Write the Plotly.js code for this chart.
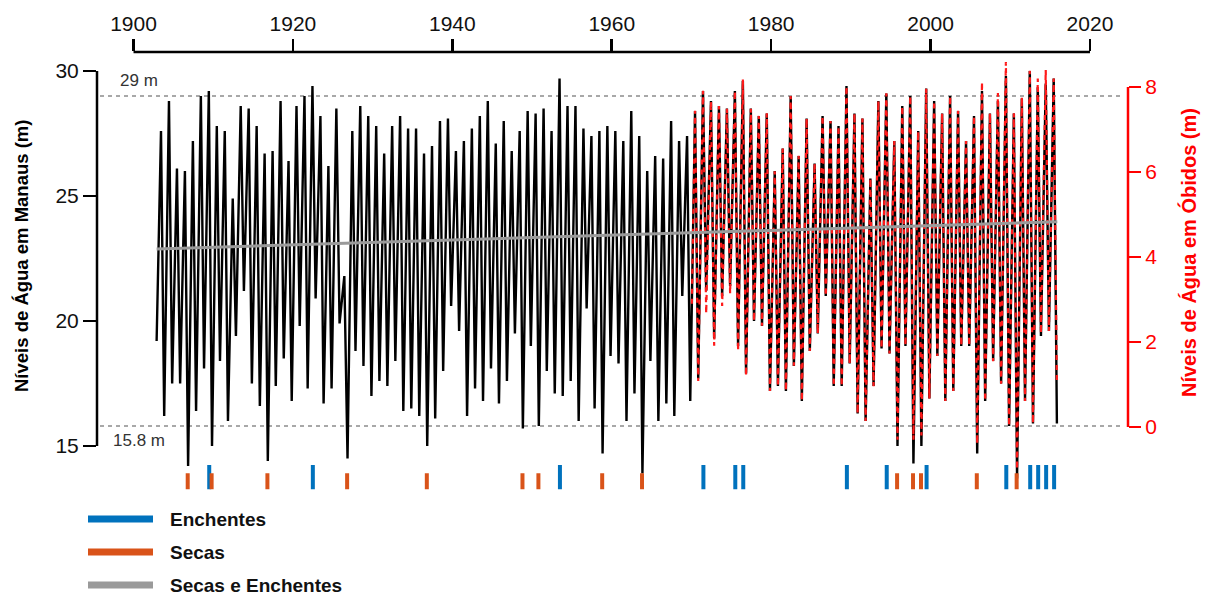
<!DOCTYPE html>
<html><head><meta charset="utf-8">
<script src="https://cdn.plot.ly/plotly-3.0.1.min.js"></script>
<style>html,body{margin:0;padding:0;background:#fff}#chart{width:1205px;height:595px}</style>
</head><body><div id="chart"></div>
<script>
// ---------- DATA ----------
// Manaus: annual flood crest (peak) and low-water (trough) levels, 1903-2015, metres
const manausFirstYear = 1903;
const manausStart = [1902.9, 19.2];          // first sample of the record (year, level)
const manausPeak = [
  27.6, 28.8, 26.1, 26.0, 27.2, 29.0, 29.2, 27.8, 27.6, 24.9,
  28.6, 28.5, 27.8, 26.7, 26.8, 28.8, 26.4, 28.6, 29.0, 29.4,
  28.2, 26.2, 28.5, 21.8, 27.6, 28.6, 28.2, 27.8, 26.7, 27.8,
  28.2, 27.7, 27.7, 26.7, 27.0, 28.0, 28.1, 26.8, 27.2, 27.7,
  28.2, 28.8, 27.1, 28.0, 26.8, 27.6, 28.4, 28.3, 28.5, 27.6,
  29.7, 28.6, 28.6, 27.7, 27.4, 27.6, 27.8, 27.6, 27.2, 28.4,
  27.4, 26.0, 26.6, 26.5, 28.0, 27.2, 27.4, 28.4, 29.2, 28.8,
  28.6, 28.5, 29.2, 29.6, 28.5, 28.2, 28.3, 26.0, 26.9, 29.0,
  26.6, 28.1, 26.3, 28.2, 28.0, 27.8, 29.4, 28.3, 28.1, 25.7,
  28.8, 29.1, 27.2, 28.6, 29.0, 27.6, 29.3, 28.8, 28.3, 29.0,
  28.4, 27.2, 28.2, 29.2, 28.3, 28.8, 29.8, 28.3, 28.9, 30.0,
  29.35, 29.5, 29.7
];
const manausTrough = [
  16.2, 17.5, 17.5, 14.2, 16.4, 18.1, 15.0, 18.4, 16.0, 19.4,
  21.2, 17.5, 16.6, 14.4, 17.4, 18.5, 16.8, 19.8, 17.3, 20.9,
  16.7, 17.3, 19.9, 14.5, 18.8, 18.2, 17.0, 17.6, 17.4, 18.4,
  16.4, 16.5, 16.2, 15.0, 16.1, 18.0, 20.6, 19.6, 16.2, 17.3,
  16.8, 18.1, 16.7, 17.6, 19.5, 15.7, 19.0, 15.8, 18.0, 17.1,
  17.0, 17.6, 16.0, 20.5, 16.5, 14.7, 18.6, 18.3, 16.0, 17.1,
  13.9, 18.4, 16.0, 16.7, 16.2, 21.0, 16.8, 17.7, 21.2, 19.3,
  21.0, 21.4, 19.0, 17.9, 20.0, 19.8, 17.2, 17.4, 17.2, 18.2,
  16.8, 18.8, 19.5, 21.0, 17.4, 17.4, 18.3, 16.3, 16.0, 17.4,
  18.9, 18.7, 15.0, 19.0, 14.3, 15.0, 16.9, 18.6, 16.8, 17.2,
  19.0, 19.0, 14.7, 16.8, 18.4, 17.5, 15.8, 13.7, 16.8, 15.9,
  19.4, 19.6, 15.9
];

// Óbidos: annual peak and trough levels, 1970-2015, metres (right axis)
const obidosFirstYear = 1970;
const obidosStart = [1970.05, 2.9];
const obidosPeak = [
  7.44, 7.91, 7.67, 7.55, 7.49, 7.91, 8.18, 7.49, 7.32, 7.38,
  6.02, 6.55, 7.79, 6.38, 7.26, 6.20, 7.32, 7.20, 7.08, 8.02,
  7.38, 7.26, 5.85, 7.67, 7.85, 6.73, 7.55, 7.79, 6.96, 7.96,
  7.67, 7.38, 7.79, 7.44, 6.73, 7.32, 8.12, 7.38, 7.86, 8.59,
  7.38, 7.76, 8.38, 8.20, 8.40, 8.20
];
const obidosTrough = [
  1.08, 2.67, 1.91, 2.85, 3.14, 1.79, 1.20, 2.49, 2.38, 0.85,
  0.96, 0.85, 1.44, 0.61, 1.79, 2.20, 3.08, 0.96, 0.96, 1.49,
  0.32, 0.14, 0.96, 1.85, 1.73, -0.30, 1.91, -0.30, -0.20, 0.67,
  1.67, 0.61, 0.85, 1.91, 1.91, -0.40, 0.61, 1.55, 1.02, 0.02,
  -1.00, 0.61, 0.08, 2.20, 2.26, 1.00
];

// Linear trend (gray), read on the right-hand scale
const trendYears = [1902.9, 2015.9];
const trendLevel = [4.19, 4.83];

// Extreme events
const floodYears   = [1909, 1922, 1953, 1971, 1975, 1976, 1989, 1994, 1999, 2009, 2012, 2013, 2014, 2015];
const droughtYears = [1906, 1909, 1916, 1926, 1936, 1948, 1950, 1958, 1963, 1995, 1997, 1998, 2005, 2010];

// Reference levels and labels
const refLevels = [29, 15.8];
const refLabels = ['29 m', '15.8 m'];
const xTicks = [1900, 1920, 1940, 1960, 1980, 2000, 2020];
const yTicks = [15, 20, 25, 30];
const y2Ticks = [0, 2, 4, 6, 8];
const legendNames = ['Enchentes', 'Secas', 'Secas e Enchentes'];

// ---------- BUILD ----------
const PEAK_T = 0.45, TROUGH_T = 0.85;
function series(start, firstYear, peaks, troughs) {
  const x = [start[0]], y = [start[1]];
  for (let i = 0; i < peaks.length; i++) {
    x.push(firstYear + i + PEAK_T); y.push(peaks[i]);
    x.push(firstYear + i + TROUGH_T); y.push(troughs[i]);
  }
  return {x, y};
}
function ticks(years, off, lo, hi) {
  const x = [], y = [];
  years.forEach(yr => { x.push(yr + off, yr + off, null); y.push(lo, hi, null); });
  return {x, y};
}
const man = series(manausStart, manausFirstYear, manausPeak, manausTrough);
const obi = series(obidosStart, obidosFirstYear, obidosPeak, obidosTrough);
const fl = ticks(floodYears, 0.5, 13.27, 14.24);
const dr = ticks(droughtYears, 0.8, 13.27, 13.91);

const BLUE = '#0072BD', ORANGE = '#D95319', GRAY = '#9a9a9a';
const FONT = 'Liberation Sans, Arial, Helvetica, sans-serif';

const traces = [
  {x: man.x, y: man.y, type: 'scatter', mode: 'lines', line: {color: '#000', width: 2.4}, xaxis: 'x', yaxis: 'y', name: 'Manaus', hoverinfo: 'skip'},
  {x: fl.x, y: fl.y, type: 'scatter', mode: 'lines', line: {color: BLUE, width: 4}, xaxis: 'x', yaxis: 'y', name: legendNames[0], connectgaps: false},
  {x: dr.x, y: dr.y, type: 'scatter', mode: 'lines', line: {color: ORANGE, width: 4}, xaxis: 'x', yaxis: 'y', name: legendNames[1], connectgaps: false},
  {x: obi.x, y: obi.y, type: 'scatter', mode: 'lines', line: {color: '#ff1a1a', width: 2.2, dash: '5px,5px'}, xaxis: 'x', yaxis: 'y2', name: 'Óbidos'},
  {x: trendYears, y: trendLevel, type: 'scatter', mode: 'lines', line: {color: GRAY, width: 3}, xaxis: 'x', yaxis: 'y2', name: legendNames[2]}
];

// plot area: x 97..1128 px, y 52..495 px
const L = 97, R = 1128, T = 52, B = 495;
const px = v => (v - L) / (R - L);
const py = v => (B - v) / (B - T);

const shapes = [
  {type: 'line', xref: 'x', yref: 'paper', x0: xTicks[0], x1: xTicks[xTicks.length - 1], y0: 1, y1: 1, line: {color: '#000', width: 2.5}},
  {type: 'line', xref: 'paper', yref: 'y', x0: 0, x1: 0, y0: yTicks[0], y1: yTicks[yTicks.length - 1], line: {color: '#000', width: 2.5}},
  {type: 'line', xref: 'paper', yref: 'y2', x0: 1, x1: 1, y0: y2Ticks[0], y1: y2Ticks[y2Ticks.length - 1], line: {color: '#ff0000', width: 2.5}}
];
refLevels.forEach(lv => shapes.push({type: 'line', layer: 'below', xref: 'paper', yref: 'y', x0: px(100), x1: px(1122), y0: lv, y1: lv, line: {color: '#8c8c8c', width: 1.6, dash: '4px,4px'}}));
const legendColors = [BLUE, ORANGE, GRAY];
const legendY = [519, 552, 585];
legendColors.forEach((c, i) => shapes.push({type: 'line', xref: 'paper', yref: 'paper', x0: px(88), x1: px(153), y0: py(legendY[i]), y1: py(legendY[i]), line: {color: c, width: 7}}));

const annotations = [
  {text: refLabels[0], xref: 'paper', yref: 'y', x: px(118), y: refLevels[0], xanchor: 'left', yanchor: 'bottom', yshift: 4, showarrow: false, font: {family: FONT, size: 17, color: '#333'}},
  {text: refLabels[1], xref: 'paper', yref: 'y', x: px(111), y: refLevels[1], xanchor: 'left', yanchor: 'top', yshift: -3, showarrow: false, font: {family: FONT, size: 17, color: '#333'}},
  {text: '<b>Níveis de Água em Manaus (m)</b>', xref: 'paper', yref: 'paper', x: px(21), y: py(256), xanchor: 'center', yanchor: 'middle', textangle: -90, showarrow: false, font: {family: FONT, size: 18.5, color: '#000'}},
  {text: '<b>Níveis de Água em Óbidos (m)</b>', xref: 'paper', yref: 'paper', x: px(1188), y: py(253), xanchor: 'center', yanchor: 'middle', textangle: -90, showarrow: false, font: {family: FONT, size: 20, color: '#ff0000'}}
];
legendNames.forEach((n, i) => annotations.push({text: '<b>' + n + '</b>', xref: 'paper', yref: 'paper', x: px(168), y: py(legendY[i]), xanchor: 'left', yanchor: 'middle', showarrow: false, font: {family: FONT, size: 19, color: '#111'}}));

const layout = {
  width: 1205, height: 595,
  margin: {l: L, r: 1205 - R, t: T, b: 595 - B, autoexpand: false},
  paper_bgcolor: '#fff', plot_bgcolor: '#fff',
  showlegend: false,
  font: {family: FONT},
  xaxis: {range: [1895.42, 2024.77], side: 'top', tickmode: 'array', tickvals: xTicks, ticks: 'outside', ticklen: 12, tickwidth: 2.5, tickcolor: '#000',
          showline: false, showgrid: false, zeroline: false, tickfont: {family: FONT, size: 21, color: '#111'}, fixedrange: true},
  yaxis: {range: [13.04, 30.76], tickmode: 'array', tickvals: yTicks, ticks: 'outside', ticklen: 13, tickwidth: 2.5, tickcolor: '#000',
          showline: false, showgrid: false, zeroline: false, tickfont: {family: FONT, size: 21, color: '#111'}, fixedrange: true},
  yaxis2: {range: [-1.6, 8.8235], overlaying: 'y', side: 'right', tickmode: 'array', tickvals: y2Ticks, ticks: 'outside', ticklen: 12, tickwidth: 2.5, tickcolor: '#ff0000',
           showline: false, showgrid: false, zeroline: false, tickfont: {family: FONT, size: 21, color: '#ff0000'}, fixedrange: true},
  shapes: shapes,
  annotations: annotations
};

Plotly.newPlot('chart', traces, layout, {displayModeBar: false, staticPlot: true});
</script>
</body></html>
